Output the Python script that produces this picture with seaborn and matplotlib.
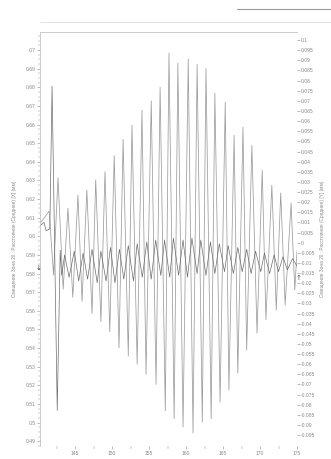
import numpy as np
import pandas as pd
import matplotlib
matplotlib.use("Agg")
import matplotlib.pyplot as plt
from matplotlib.lines import Line2D
from matplotlib.ticker import MultipleLocator
import seaborn as sns

# ---- data (extrema of the traces) ----
# Right-axis trace (Y displacement): growing/decaying oscillation around 0
y_time = [140.4, 141.5, 142.1, 142.7, 143.4, 144.05, 144.7, 145.4, 145.95, 146.6,
          147.3, 147.8, 148.5, 149.05, 149.7, 150.3, 150.95, 151.5, 152.2, 152.7,
          153.4, 154.05, 154.6, 155.3, 155.95, 156.5, 157.2, 157.7, 158.4, 158.9,
          159.6, 160.3, 160.95, 161.5, 162.2, 162.7, 163.4, 163.9, 164.6, 165.3,
          165.8, 166.5, 167.0, 167.7, 168.2, 168.9, 169.6, 170.3, 170.8, 171.6,
          172.2, 172.8, 173.4, 174.2, 174.7, 175.0]
y_disp = [0.010, 0.0156, -0.016, 0.032, -0.023, 0.017, -0.027, 0.0235, -0.029, 0.026,
          -0.035, 0.031, -0.039, 0.035, -0.044, 0.043, -0.052, 0.051, -0.056, 0.058,
          -0.060, 0.0654, -0.065, 0.070, -0.070, 0.0768, -0.083, 0.0936, -0.087, 0.0886,
          -0.091, 0.0906, -0.094, 0.088, -0.0886, 0.086, -0.087, 0.0738, -0.0787, 0.0694,
          -0.0728, 0.053, -0.0644, 0.057, -0.053, 0.048, -0.0447, 0.0358, -0.038, 0.0284,
          -0.0333, 0.0245, -0.0308, 0.0195, -0.0234, -0.004]

# Left-axis trace (X displacement): initial spike then small oscillation
x_time = [140.4, 140.8, 141.1, 141.6, 141.9, 142.6, 143.0, 143.2,
          143.6, 144.2, 144.9, 145.5, 146.1, 146.7, 147.3, 148.0, 148.5, 149.2,
          149.8, 150.4, 151.0, 151.6, 152.2, 152.9, 153.4, 154.1, 154.7, 155.3,
          155.9, 156.6, 157.1, 157.8, 158.3, 159.0, 159.6, 160.2, 160.8, 161.5,
          162.0, 162.7, 163.3, 163.9, 164.5, 165.2, 165.7, 166.4, 167.0, 167.6,
          168.2, 168.8, 169.4, 170.1, 170.6, 171.3, 171.9, 172.5, 173.1, 173.7,
          174.4, 175.0]
x_disp = [0.606, 0.6075, 0.603, 0.604, 0.6806, 0.5065, 0.5925, 0.579,
          0.590, 0.578, 0.592, 0.576, 0.591, 0.577, 0.593, 0.575, 0.592, 0.576,
          0.594, 0.575, 0.593, 0.577, 0.595, 0.576, 0.596, 0.578, 0.597, 0.577,
          0.598, 0.579, 0.598, 0.578, 0.599, 0.579, 0.598, 0.578, 0.599, 0.580,
          0.598, 0.579, 0.597, 0.580, 0.596, 0.581, 0.595, 0.580, 0.594, 0.581,
          0.593, 0.580, 0.592, 0.581, 0.591, 0.580, 0.590, 0.581, 0.589, 0.582,
          0.588, 0.584]

left_ticks = [0.49, 0.5, 0.51, 0.52, 0.53, 0.54, 0.55, 0.56, 0.57, 0.58, 0.59,
              0.6, 0.61, 0.62, 0.63, 0.64, 0.65, 0.66, 0.67, 0.68, 0.69, 0.7]
right_ticks = [-0.095, -0.09, -0.085, -0.08, -0.075, -0.07, -0.065, -0.06, -0.055,
               -0.05, -0.045, -0.04, -0.035, -0.03, -0.025, -0.02, -0.015, -0.01,
               -0.005, 0, 0.005, 0.01, 0.015, 0.02, 0.025, 0.03, 0.035, 0.04, 0.045,
               0.05, 0.055, 0.06, 0.065, 0.07, 0.075, 0.08, 0.085, 0.09, 0.095, 0.1]
x_ticks = [145, 150, 155, 160, 165, 170, 175]

left_label = "Смещение Зона 20 : Расстояние (Среднее) [X] (мм)"
right_label = "Смещение Зона 20 : Расстояние (Среднее) [Y] (мм)"

sns.set_style("white")
plt.rcParams["font.family"] = ["Liberation Sans", "DejaVu Sans"]

fig = plt.figure(figsize=(3.31, 4.59), dpi=100)
ax = fig.add_axes([40 / 331, 1 - 446 / 459, 257 / 331, 414 / 459])
ax2 = ax.twinx()

dfy = pd.DataFrame({"t": y_time, "v": y_disp})
dfx = pd.DataFrame({"t": x_time, "v": x_disp})
sns.lineplot(data=dfy, x="t", y="v", ax=ax2, sort=False, color="#9c9c9c", lw=0.55)
sns.lineplot(data=dfx, x="t", y="v", ax=ax, sort=False, color="#6e6e6e", lw=0.5)
ax.set_zorder(ax2.get_zorder() + 1)
ax.patch.set_visible(False)

ax.set_xlim(140.27, 175.0)
ax.set_ylim(0.4874, 0.7097)
ax2.set_ylim(-0.1004, 0.104)

tick_col = "#8a8a8a"
ax.set_yticks(left_ticks)
ax.set_yticklabels([f"{v:g}" for v in left_ticks])
ax.yaxis.set_minor_locator(MultipleLocator(0.0025))
ax2.set_yticks(right_ticks)
ax2.set_yticklabels([f"{v:g}" for v in right_ticks])
ax.set_xticks(x_ticks)
ax.set_xticklabels([str(v) for v in x_ticks])
ax.xaxis.set_minor_locator(MultipleLocator(2.5))

for a in (ax, ax2):
    a.tick_params(axis="both", which="major", labelsize=3.6, colors=tick_col,
                  length=2, width=0.4, pad=1)
    a.tick_params(axis="both", which="minor", length=1.2, width=0.3, colors=tick_col)
    for s in a.spines.values():
        s.set_color("#c8c8c8")
        s.set_linewidth(0.5)
ax.tick_params(axis="x", which="both", bottom=True, length=2.5)
ax.tick_params(axis="y", which="both", left=True)
ax2.tick_params(axis="y", which="major", right=True)
ax.spines["bottom"].set_visible(False)
ax2.spines["bottom"].set_visible(False)
ax.spines["right"].set_visible(False)
ax2.spines["right"].set_visible(False)

ax.set_xlabel("")
ax.set_ylabel(left_label, fontsize=3.4, color="#8a8a8a", labelpad=6)
ax2.set_ylabel(right_label, fontsize=3.4, color="#8a8a8a", labelpad=3)

# small axis markers next to the spines
fig.text(39 / 331, 1 - 268 / 459, "↓", fontsize=5, color="#333333",
         ha="center", va="center", family=["DejaVu Sans"])
fig.text(299 / 331, 1 - 278 / 459, "↑", fontsize=5, color="#555555",
         ha="center", va="center", family=["DejaVu Sans"])

# faint header rules
fig.add_artist(Line2D([40 / 331, 1.0], [1 - 22 / 459, 1 - 22 / 459],
                      transform=fig.transFigure, color="#dddddd", lw=0.6))
fig.add_artist(Line2D([237 / 331, 1.0], [1 - 9 / 459, 1 - 9 / 459],
                      transform=fig.transFigure, color="#999999", lw=0.8))

fig.savefig("out.png", dpi=100, facecolor="white")
